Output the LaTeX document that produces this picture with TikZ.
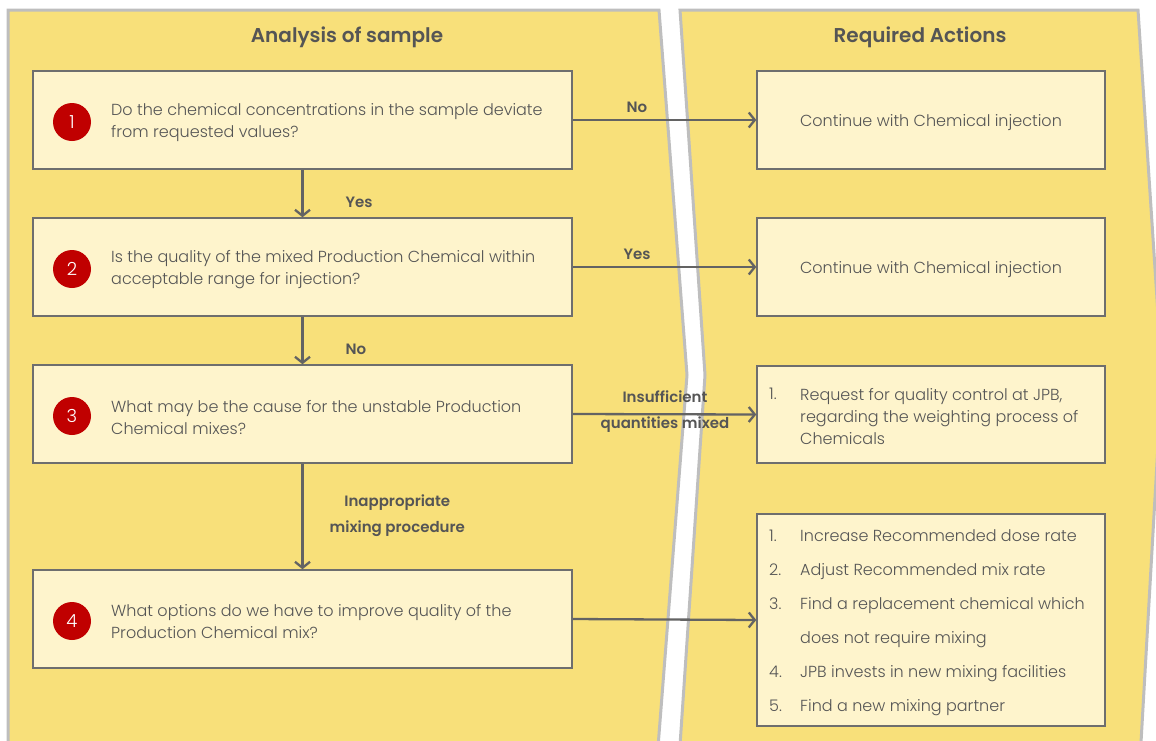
\documentclass[tikz,border=0pt]{standalone}
\usepackage{fontspec}
\setmainfont{Poppins}[UprightFont=* Light,BoldFont=* SemiBold]
\usetikzlibrary{arrows.meta}
\definecolor{panelfill}{RGB}{248,224,122}
\definecolor{panelline}{RGB}{190,190,190}
\definecolor{boxfill}{RGB}{254,244,204}
\definecolor{boxline}{RGB}{110,110,110}
\definecolor{txtgray}{RGB}{85,85,85}
\definecolor{numred}{RGB}{192,0,0}

\begin{document}
\begin{tikzpicture}[x=1pt,y=-1pt,
  panel/.style={fill=panelfill,draw=panelline,line width=3pt,line join=miter},
  qbox/.style={draw=boxline,fill=boxfill,line width=1.5pt,minimum width=539pt,minimum height=98pt,inner sep=0pt},
  abox/.style={draw=boxline,fill=boxfill,line width=1.5pt,minimum width=348pt,inner sep=0pt},
  num/.style={circle,fill=numred,text=white,minimum size=38pt,inner sep=0pt,font=\fontsize{18}{18}\selectfont},
  qtext/.style={anchor=west,align=left,text=txtgray,inner sep=0pt,font=\fontsize{16}{22}\selectfont},
  lbl/.style={text=txtgray,align=center,inner sep=0pt,font=\bfseries\fontsize{15}{26}\selectfont},
  title/.style={text=txtgray,inner sep=0pt,font=\bfseries\fontsize{20}{20}\selectfont},
  flow/.style={draw=boxline!90!black,line width=2.3pt,-{Straight Barb[length=6pt,width=15pt,line width=2.3pt]}}]
  \useasboundingbox (0,0) rectangle (1156,740);
  \clip (0,0) rectangle (1156,740);
  % panels
  \draw[panel] (8,760) -- (8,10) -- (659,10) -- (687,375) -- (657,760);
  \draw[panel] (679,760) -- (705,375) -- (680,10) -- (1138,10) -- (1162,375) -- (1140,760);
  \node (tleft) at (347,37)[title]{Analysis of sample};
  \node (tright) at (920,37)[title]{Required Actions};
  % questions
  \foreach \y/\t[count=\i] in {
    120/{Do the chemical concentrations in the sample deviate\\from requested values?},
    267/{Is the quality of the mixed Production Chemical within\\acceptable range for injection?},
    414/{What may be the cause for the unstable Production\\Chemical mixes?},
    619/{What options do we have to improve quality of the\\Production Chemical mix?}%
  }
  {
    \node (q\i) at (302.5,\y)[qbox]{};
    \node (n\i) at (72,\y+2)[num]{\i};
    \node (t\i) at (111,\y+3)[qtext]{\t};
  }
  % actions
  \node (a1) at (931,120)[abox,minimum height=98pt]{};
  \node (a1t) at (931,123)[qtext,anchor=center]{Continue with Chemical injection};
  \node (a2) at (931,267)[abox,minimum height=98pt]{};
  \node (a2t) at (931,270)[qtext,anchor=center]{Continue with Chemical injection};
  \node (a3) at (931,414.5)[abox,minimum height=97pt]{};
  \node (a3n) at (769,395.5)[qtext]{\strut 1.};
  \node (a3t) at (800,416)[qtext]{Request for quality control at JPB,\\regarding the weighting process of\\Chemicals};
  \node (a4) at (931,620)[abox,minimum height=212pt]{};
  \foreach \y/\n/\t[count=\i] in {
    537/1./{Increase Recommended dose rate},
    571/2./{Adjust Recommended mix rate},
    605/3./{Find a replacement chemical which},
    639//{does not require mixing},
    673/4./{JPB invests in new mixing facilities},
    707/5./{Find a new mixing partner}%
  }
  {
    \node (a4n\i) at (769,\y)[qtext]{\strut\n};
    \node (a4t\i) at (800,\y)[qtext]{\strut\t};
  }
  % connectors
  \draw[flow] (q1.east) -- (a1.west) node[pos=0.35,lbl,above=6pt]{No};
  \draw[flow] (q2.east) -- (a2.west) node[pos=0.35,lbl,above=6pt]{Yes};
  \draw[flow] (q3.east) -- (a3.west);
  \node (l3) at (665,412)[lbl]{Insufficient\\quantities mixed};
  \draw[flow] (q4.east) -- (a4.west);
  \draw[flow] (q1.south) -- (q2.north) node[midway,lbl,right=42pt,yshift=-9pt]{Yes};
  \draw[flow] (q2.south) -- (q3.north) node[midway,lbl,right=42pt,yshift=-9pt]{No};
  \draw[flow] (q3.south) -- (q4.north) node[midway,lbl,right=26pt,yshift=1pt]{Inappropriate\\mixing procedure};
\end{tikzpicture}
\end{document}
